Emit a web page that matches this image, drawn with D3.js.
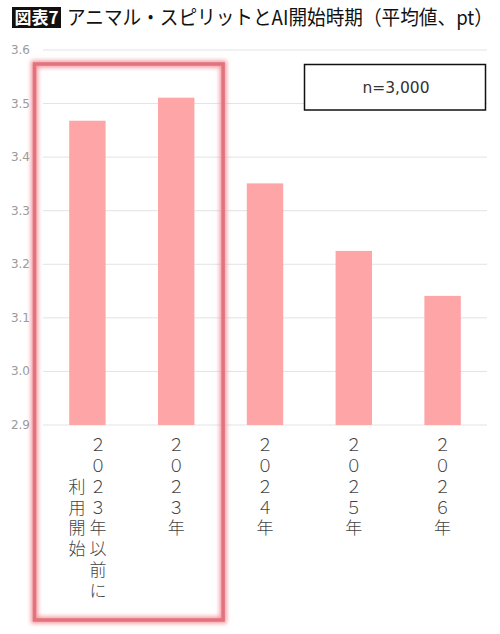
<!DOCTYPE html>
<html>
<head>
  <meta charset="utf-8">
  <title>アニマル・スピリットとAI開始時期</title>
  <script src="https://cdnjs.cloudflare.com/ajax/libs/d3/7.8.5/d3.min.js"></script>
  <style>
    body { margin: 0; background: #fff; }
    svg { display: block; }
  </style>
</head>
<body>
<div id="chart"></div>
<script>

// data
var categories = ["2023年以前に利用開始", "2023年", "2024年", "2025年", "2026年"];
// vertical label columns, right column first
var labelColumns = [["２０２３年以前に", "利用開始"], ["２０２３年"], ["２０２４年"], ["２０２５年"], ["２０２６年"]];
var values = [3.468, 3.511, 3.351, 3.225, 3.141];
var yTicks = [2.9, 3.0, 3.1, 3.2, 3.3, 3.4, 3.5, 3.6];
var highlighted = ["2023年以前に利用開始", "2023年"];
var sampleNote = "n=3,000";

var W = 500, H = 634;
var margin = {top: 50, right: 13, bottom: 209, left: 43},
    width = W - margin.left - margin.right,
    height = H - margin.top - margin.bottom;

var svg = d3.select("#chart")
  .append("svg")
    .attr("width", W)
    .attr("height", H);

var defs = svg.append("defs");
var glow = defs.append("filter")
    .attr("id", "glow")
    .attr("x", "-20%").attr("y", "-20%")
    .attr("width", "140%").attr("height", "140%");
glow.append("feGaussianBlur").attr("stdDeviation", 2.2);

// title
svg.append("rect")
    .attr("x", 12).attr("y", 7)
    .attr("width", 49).attr("height", 21)
    .attr("fill", "#111");
svg.append("text")
    .attr("x", 36.5).attr("y", 24)
    .attr("text-anchor", "middle")
    .attr("fill", "#fff")
    .style("font-family", "'Noto Sans CJK JP', sans-serif")
    .style("font-weight", "700")
    .style("font-size", "17px")
    .attr("textLength", 44)
    .attr("lengthAdjust", "spacingAndGlyphs")
    .text("図表7");
svg.append("text")
    .attr("x", 67).attr("y", 25)
    .attr("fill", "#111")
    .style("font-family", "'Noto Sans CJK JP', sans-serif")
    .style("font-weight", "400")
    .style("font-size", "20px")
    .attr("textLength", 426)
    .attr("lengthAdjust", "spacingAndGlyphs")
    .text("アニマル・スピリットとAI開始時期（平均値、pt）");

var g = svg.append("g")
    .attr("transform", "translate(" + margin.left + "," + margin.top + ")");

var x = d3.scaleBand()
  .domain(categories)
  .range([0, width])
  .paddingInner(0.59)
  .paddingOuter(0.295);

var y = d3.scaleLinear()
  .domain([2.9, 3.6])
  .range([height, 0]);

// gridlines
g.append("g")
  .selectAll("line")
  .data(yTicks)
  .enter()
  .append("line")
    .attr("x1", 0)
    .attr("x2", width)
    .attr("y1", d => y(d))
    .attr("y2", d => y(d))
    .attr("stroke", "#e3e3e3")
    .attr("stroke-width", 1);

// y tick labels
g.append("g")
  .selectAll("text")
  .data(yTicks)
  .enter()
  .append("text")
    .attr("x", -13)
    .attr("y", d => y(d) + 4)
    .attr("text-anchor", "end")
    .attr("fill", "#9a9a9a")
    .style("font-family", "'DejaVu Sans', Verdana, sans-serif")
    .style("font-size", "12px")
    .text(d => d.toFixed(1));

// bars
g.append("g")
  .selectAll("rect")
  .data(values)
  .enter()
  .append("rect")
    .attr("x", (d, i) => x(categories[i]))
    .attr("width", x.bandwidth())
    .attr("y", d => y(d))
    .attr("height", d => y(2.9) - y(d))
    .attr("fill", "#fda5a7");

// vertical category labels
var pitch = 20.8, firstRow = 445 - margin.top, colGap = 21;
labelColumns.forEach(function(cols, i) {
  var cx = x(categories[i]) + x.bandwidth() / 2;
  var maxLen = d3.max(cols, c => c.length);
  cols.forEach(function(col, j) {
    var colX = cx + (cols.length - 1) * colGap / 2 - j * colGap;
    var start = (maxLen - col.length) / 2;
    col.split("").forEach(function(ch, k) {
      g.append("text")
        .attr("x", colX)
        .attr("y", firstRow + (start + k) * pitch)
        .attr("dy", "0.36em")
        .attr("text-anchor", "middle")
        .attr("fill", "#444")
        .style("font-family", "'Noto Sans CJK JP', sans-serif")
        .style("font-weight", "300")
        .style("font-size", "17px")
        .text(ch);
    });
  });
});

// highlight box around first two categories
var hx0 = x(highlighted[0]) - x.step() * 0.295 - 8.5;
var hx1 = x(highlighted[highlighted.length - 1]) + x.bandwidth() + x.step() * 0.295 + 2.5;
var hy0 = y(3.6) + 14, hy1 = 620 - margin.top;
g.append("rect")
    .attr("x", hx0).attr("y", hy0)
    .attr("width", hx1 - hx0).attr("height", hy1 - hy0)
    .attr("fill", "none")
    .attr("stroke", "#f49aa2")
    .attr("stroke-width", 7)
    .attr("filter", "url(#glow)");
g.append("rect")
    .attr("x", hx0).attr("y", hy0)
    .attr("width", hx1 - hx0).attr("height", hy1 - hy0)
    .attr("fill", "none")
    .attr("stroke", "#e2737d")
    .attr("stroke-width", 3.5);

// sample size box
svg.append("rect")
    .attr("x", 304.5).attr("y", 64.5)
    .attr("width", 181).attr("height", 45.5)
    .attr("fill", "#fff")
    .attr("stroke", "#111")
    .attr("stroke-width", 1.5);
svg.append("text")
    .attr("x", 396).attr("y", 93)
    .attr("text-anchor", "middle")
    .attr("fill", "#333")
    .style("font-family", "'DejaVu Sans', Verdana, sans-serif")
    .style("font-size", "15.5px")
    .text(sampleNote);

</script>
</body>
</html>
